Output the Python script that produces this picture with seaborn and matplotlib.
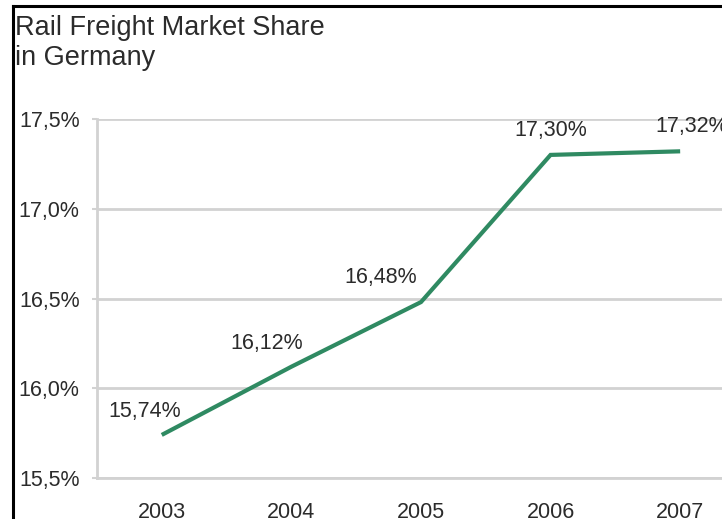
import matplotlib
matplotlib.use("Agg")
import matplotlib.pyplot as plt
from matplotlib.lines import Line2D
import seaborn as sns
import pandas as pd

# Rail freight market share in Germany, 2003-2007
years = ["2003", "2004", "2005", "2006", "2007"]
share = [15.74, 16.12, 16.48, 17.30, 17.32]
y_ticks = [15.5, 16.0, 16.5, 17.0, 17.5]

# offsets (points) of each value label relative to its data point
label_offsets = [(-12, 9), (-18, 9), (-29, 10), (0, 10), (8, 10)]

sns.set_style("white")
plt.rcParams["font.family"] = ["Liberation Sans", "DejaVu Sans"]

GRID = "#d2d2d2"
TEXT = "#2b2b2b"
GREEN = "#2f8a62"

fig = plt.figure(figsize=(7.22, 5.19), dpi=100)
ax = fig.add_axes([0.1343, 0.079, 0.8975, 0.6917])

df = pd.DataFrame({"year": years, "share": share})
df["pos"] = range(len(years))
sns.lineplot(data=df, x="pos", y="share", ax=ax, color=GREEN, linewidth=3.0,
             solid_capstyle="butt", solid_joinstyle="miter")

ax.set_ylim(y_ticks[0], y_ticks[-1])
ax.set_xlim(-0.5, len(years) - 0.5)

# y axis: percent labels with decimal comma, gridlines at each tick
ax.set_yticks(y_ticks)
ax.set_yticklabels([f"{v:.1f}%".replace(".", ",") for v in y_ticks])
ax.yaxis.grid(True, color=GRID, linewidth=2.0)
ax.set_axisbelow(True)

# x axis: labels centred on categories, tick marks on boundaries
ax.set_xticks(range(len(years)))
ax.set_xticklabels(years)
ax.set_xticks([i - 0.5 for i in range(len(years) + 1)], minor=True)
ax.tick_params(axis="x", which="major", length=0, pad=17, labelsize=15.5, labelcolor=TEXT)
ax.tick_params(axis="x", which="minor", length=3.8, width=1.5, color=GRID, direction="out")
ax.tick_params(axis="y", which="major", length=3.8, width=1.5, color=GRID, pad=8.6,
               labelsize=15.5, labelcolor=TEXT, left=True, direction="out")

for side in ("top", "right"):
    ax.spines[side].set_visible(False)
for side in ("left", "bottom"):
    ax.spines[side].set_color(GRID)
    ax.spines[side].set_linewidth(2.0)

ax.set_xlabel("")
ax.set_ylabel("")

# value labels
for i, (v, (dx, dy)) in enumerate(zip(share, label_offsets)):
    ax.annotate(f"{v:.2f}%".replace(".", ","), xy=(i, v), xytext=(dx, dy),
                textcoords="offset points", ha="center", va="bottom",
                fontsize=15.5, color=TEXT, annotation_clip=False)

# title
fig.text(0.021, 0.971, "Rail Freight Market Share\nin Germany", ha="left", va="top",
         fontsize=19.5, color=TEXT, linespacing=1.22)

# black frame along the top and left edges
fig.add_artist(Line2D([0.0181, 0.0181], [0.0, 0.988], transform=fig.transFigure,
                      color="black", linewidth=2.2, solid_capstyle="projecting"))
fig.add_artist(Line2D([0.0181, 1.0], [0.988, 0.988], transform=fig.transFigure,
                      color="black", linewidth=2.2, solid_capstyle="projecting"))

fig.savefig("out.png", dpi=100, facecolor="white")
